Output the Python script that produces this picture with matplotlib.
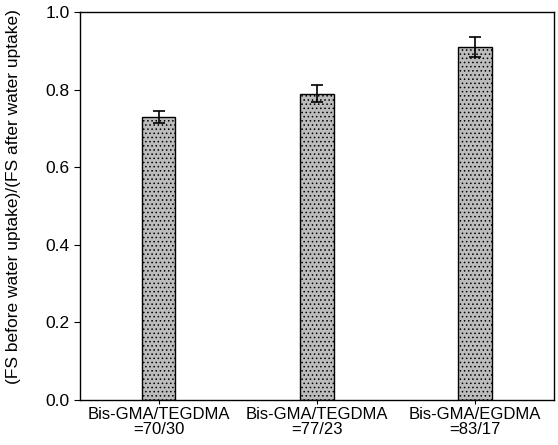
import matplotlib
matplotlib.use("Agg")
import matplotlib.pyplot as plt

plt.rcParams['font.family'] = ['Liberation Sans', 'DejaVu Sans']
plt.rcParams['hatch.linewidth'] = 0.6
plt.rcParams['hatch.color'] = '#8a8a8a'

labels = ["Bis-GMA/TEGDMA\n=70/30", "Bis-GMA/TEGDMA\n=77/23", "Bis-GMA/EGDMA\n=83/17"]
ratios = [0.73, 0.79, 0.91]
errors = [0.015, 0.022, 0.026]

fig = plt.figure(figsize=(5.58, 4.45), dpi=100)
ax = fig.add_axes([0.143, 0.101, 0.85, 0.872])

x = range(len(labels))
ax.bar(x, ratios, width=0.21, color='#bcbcbc', edgecolor='black', linewidth=1.0,
       hatch='....', yerr=errors, capsize=4,
       error_kw=dict(ecolor='black', elinewidth=1.2, capthick=1.2))

ax.set_xlim(-0.5, 2.5)
ax.set_ylim(0, 1.0)
ax.set_yticks([0.0, 0.2, 0.4, 0.6, 0.8, 1.0])
ax.set_yticklabels(['0.0', '0.2', '0.4', '0.6', '0.8', '1.0'], fontsize=12.5)
ax.set_xticks(list(x))
ax.set_xticklabels(labels, fontsize=12, linespacing=1.0)
ax.tick_params(axis='both', direction='out', length=4, width=0.8)
ax.tick_params(axis='x', length=3, pad=2)
ax.set_ylabel('(FS before water uptake)/(FS after water uptake)', fontsize=12.5)
ax.yaxis.set_label_coords(-0.125, 0.525)
for s in ax.spines.values():
    s.set_linewidth(1.0)

fig.savefig('out.png', dpi=100)
